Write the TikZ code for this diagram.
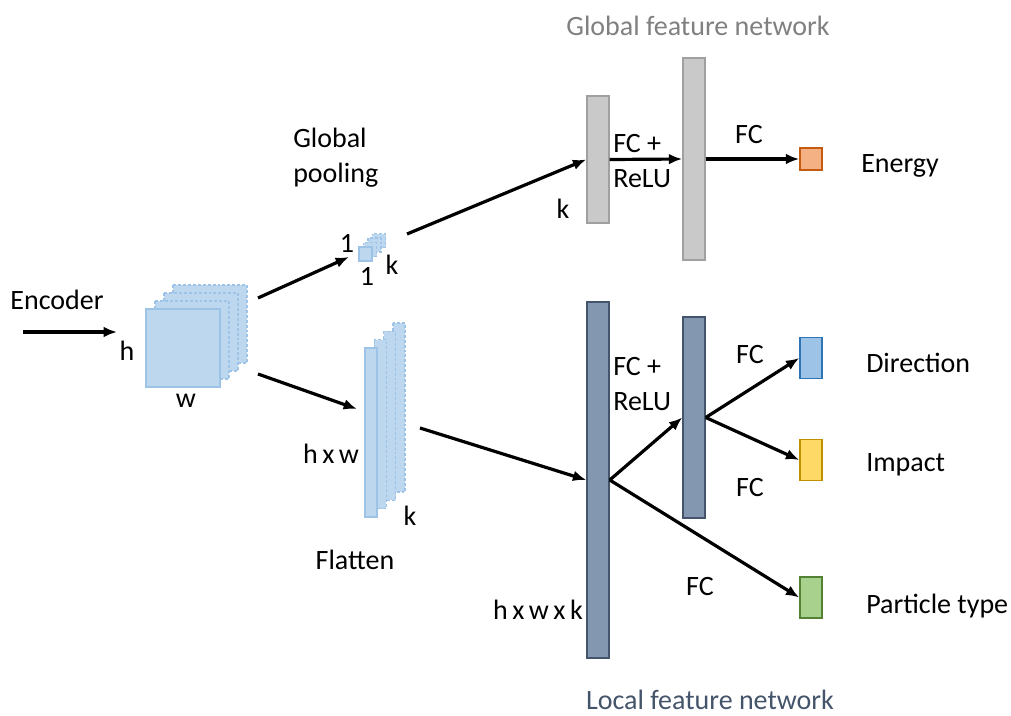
\documentclass[tikz,border=0pt]{standalone}
\usepackage{fontspec}
\setmainfont{Carlito}
\usetikzlibrary{arrows.meta}
\definecolor{mapfill}{HTML}{BDD7EE}
\definecolor{mapedge}{HTML}{9DC3E6}
\definecolor{gfill}{HTML}{C9C9C9}
\definecolor{gedge}{HTML}{A0A0A0}
\definecolor{lfill}{HTML}{8497B0}
\definecolor{ledge}{HTML}{44546A}
\definecolor{enfill}{HTML}{F4B183}
\definecolor{enedge}{HTML}{C55A11}
\definecolor{dirfill}{HTML}{9DC3E6}
\definecolor{diredge}{HTML}{2E75B6}
\definecolor{impfill}{HTML}{FFD966}
\definecolor{impedge}{HTML}{BF9000}
\definecolor{parfill}{HTML}{A9D18E}
\definecolor{paredge}{HTML}{548235}
% tighter word spacing for the size labels
\newcommand{\dimlabel}[1]{{\spaceskip=0.16em\relax #1}}
\begin{document}
\begin{tikzpicture}[
  x=0.75pt,
  y=-0.75pt,
  inner sep=0pt,
  font=\fontsize{21}{26}\selectfont,
  arr/.style={-{Latex[length=10pt,width=8pt]}, line width=2.4pt},
  map/.style={fill=mapfill, draw=mapedge, line width=1.1pt},
  mapback/.style={map, dash pattern=on 2.2pt off 1.5pt},
  bar/.style={rectangle, inner sep=0, minimum width=16.5pt, line width=1.1pt},
  gbar/.style={bar, fill=gfill, draw=gedge},
  lbar/.style={bar, fill=lfill, draw=ledge},
  outbox/.style={rectangle, inner sep=0, minimum width=16.5pt, line width=1.1pt}
]
\useasboundingbox (0,0) rectangle (1011,715);

% Encoder input
\node[anchor=base] (enc) at (57,309) {Encoder};
\coordinate (encin) at (23,332);
\coordinate (encout) at (117,332);
\draw[arr] (encin) -- (encout);

% feature maps h x w x k
\foreach \i in {3,2,1} {
  \draw[mapback] ({146+9*\i},{309-8*\i}) rectangle +(74,78);
}
\draw[map] (146,309) rectangle +(74,78);
\node[anchor=base] (hmap) at (127,360) {h};
\node[anchor=base] (wmap) at (186,407) {w};

% Global pooling branch
\node[anchor=base west, align=left] (gpool) at (293,182) {Global\\pooling};
\foreach \i in {3,2,1} {
  \draw[mapback] ({359+4.5*\i},{247-4.5*\i}) rectangle +(13,14);
}
\draw[map] (359,247) rectangle +(13,14);
\node[anchor=base] (onea) at (347,252) {1};
\node[anchor=base] (oneb) at (367,285) {1};
\node[anchor=base] (kpool) at (392,274) {k};
\coordinate (mapup) at (258,298);
\coordinate (poolin) at (349,257);
\coordinate (poolout) at (407,234);
\draw[arr] (mapup) -- (poolin);

% Flatten branch
\foreach \i in {3,2,1} {
  \draw[mapback] ({365+9.3*\i},{348-8.3*\i}) rectangle +(12,169);
}
\draw[map] (365,348) rectangle +(12,169);
\node[anchor=base] (hw) at (331,463) {\dimlabel{h x w}};
\node[anchor=base] (kflat) at (410,525) {k};
\node[anchor=base] (flat) at (355,569) {Flatten};
\coordinate (mapdown) at (258,374);
\coordinate (flatin) at (357,409);
\coordinate (flatout) at (420,428);
\draw[arr] (mapdown) -- (flatin);

% Global feature network
\node[anchor=base, text=black!50] (gtitle) at (698,35) {Global feature network};
\node[gbar, minimum height=95.25pt] (g1) at (598,159.5) {};
\node[gbar, minimum height=151.5pt] (g2) at (694,159) {};
\node[outbox, minimum height=16.5pt, fill=enfill, draw=enedge] (energy) at (811,159) {};
\draw[arr] (poolout) -- (g1.west);
\draw[arr] (g1.east) -- (g2.west);
\draw[arr] (g2.east) -- (energy.west);
\node[anchor=base] (kg) at (563,218) {k};
\node[anchor=base west, align=left] (gfc) at (613,187) {FC +\\ReLU};
\node[anchor=base] (fcen) at (749,143) {FC};
\node[anchor=base west] (lenergy) at (861,172) {Energy};

% Local feature network
\node[anchor=base, text=ledge] (ltitle) at (710,709) {Local feature network};
\node[lbar, minimum height=267pt] (l1) at (598,480) {};
\node[lbar, minimum height=150.75pt] (l2) at (694,417.5) {};
\node[outbox, minimum height=30.75pt, fill=dirfill, draw=diredge] (dir) at (811,358) {};
\node[outbox, minimum height=30.75pt, fill=impfill, draw=impedge] (imp) at (811,460) {};
\node[outbox, minimum height=30.75pt, fill=parfill, draw=paredge] (par) at (811,597.5) {};
\draw[arr] (flatout) -- (l1.west);
\draw[arr] (l1.east) -- (l2.west);
\draw[arr] (l2.east) -- (dir.west);
\draw[arr] (l2.east) -- (imp.west);
\draw[arr] (l1.east) -- (par.west);
\node[anchor=base] (hwk) at (538,619) {\dimlabel{h x w x k}};
\node[anchor=base west, align=left] (lfc) at (613,410) {FC +\\ReLU};
\node[anchor=base] (fcdir) at (750,363) {FC};
\node[anchor=base] (fcimp) at (750,496) {FC};
\node[anchor=base] (fcpar) at (700,595) {FC};
\node[anchor=base west] (ldir) at (866,372) {Direction};
\node[anchor=base west] (limp) at (866,471) {Impact};
\node[anchor=base west] (lpar) at (866,613) {Particle type};
\end{tikzpicture}
\end{document}
